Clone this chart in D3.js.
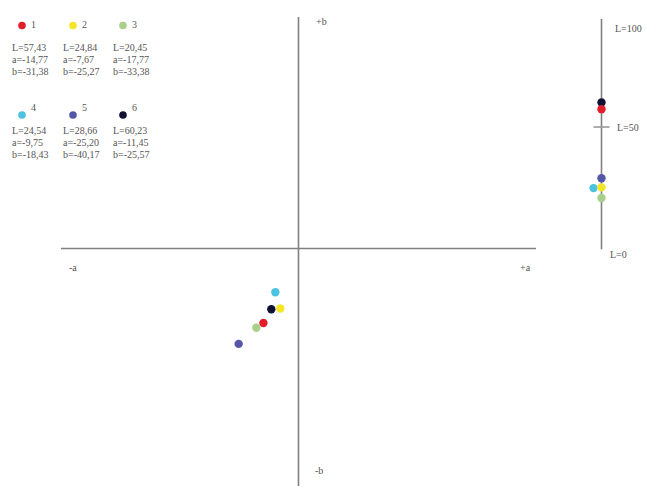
<!DOCTYPE html>
<html lang="en">
<head>
<meta charset="UTF-8">
<title>CIELab</title>
<script src="https://cdn.jsdelivr.net/npm/d3@7"></script>
<style>
  body, html { margin: 0; background: #fff; }
  svg { display: block; }
  text { font-family: "Liberation Serif", "DejaVu Serif", serif; font-size: 10px; fill: #555; }
</style>
</head>
<body>
<svg width="646" height="487"></svg>
<script>
const sampleIds = ["1", "2", "3", "4", "5", "6"];
const lValues = [57.43, 24.84, 20.45, 24.54, 28.66, 60.23];
const aValues = [-14.77, -7.67, -17.77, -9.75, -25.20, -11.45];
const bValues = [-31.38, -25.27, -33.38, -18.43, -40.17, -25.57];
const sampleColors = ["#e31e2b", "#f4e526", "#a9d08b", "#4cc4e1", "#5457a8", "#0f1233"];
const lTicks = [0, 50, 100];

(function(){
  const svg = d3.select('svg');
  const fmt = v => v.toFixed(2).replace('.', ',');
  const samples = sampleIds.map((id, i) => ({id, L: lValues[i], a: aValues[i], b: bValues[i], color: sampleColors[i], i}));

  // a*b* plane
  const x = d3.scaleLinear().domain([-100, 100]).range([61, 536]);
  const y = d3.scaleLinear().domain([-100, 100]).range([486, 11]);
  const axisG = svg.append('g').attr('stroke', '#808080').attr('stroke-width', 1.6);
  axisG.append('line').attr('x1', x(-100)).attr('x2', x(100)).attr('y1', y(0)).attr('y2', y(0));
  axisG.append('line').attr('x1', x(0)).attr('x2', x(0)).attr('y1', y(97.5)).attr('y2', y(-100));
  svg.append('text').attr('x', 69).attr('y', 271).text('-a');
  svg.append('text').attr('x', 520).attr('y', 271).text('+a');
  svg.append('text').attr('x', 316).attr('y', 25).text('+b');
  svg.append('text').attr('x', 315).attr('y', 474).text('-b');

  // L axis
  const lx = 601.5;
  const ly = d3.scaleLinear().domain([0, 100]).range([247, 7]);
  axisG.append('line').attr('x1', lx).attr('x2', lx).attr('y1', ly(95)).attr('y2', ly(-1));
  axisG.append('line').attr('x1', lx - 8).attr('x2', lx + 8).attr('y1', ly(50)).attr('y2', ly(50)).attr('stroke', '#999');
  svg.append('g').selectAll('text').data(lTicks).join('text')
    .attr('x', d => d === 0 ? 610 : d === 50 ? 617 : 615)
    .attr('y', d => d === 0 ? 258 : d === 50 ? 131 : 32)
    .text(d => 'L=' + d);

  // dodge overlapping L markers
  samples.forEach(s => {
    s.dx = samples.some(p => p.i < s.i && Math.abs(p.L - s.L) < 2) ? -8 : 0;
  });
  const drawOrder = samples.slice().reverse();
  svg.append('g').selectAll('circle').data(drawOrder).join('circle')
    .attr('cx', d => lx + d.dx).attr('cy', d => ly(d.L)).attr('r', 4.2).attr('fill', d => d.color);
  svg.append('g').selectAll('circle').data(drawOrder).join('circle')
    .attr('cx', d => x(d.a)).attr('cy', d => y(d.b)).attr('r', 4.2).attr('fill', d => d.color);

  // legend
  const colX = [12, 63, 113];
  const rowY = [25.5, 115];
  const leg = svg.append('g').selectAll('g').data(samples).join('g')
    .attr('transform', d => `translate(${colX[d.i % 3]},${rowY[Math.floor(d.i / 3)]})`);
  leg.append('circle').attr('cx', 10).attr('cy', 0).attr('r', 3.8).attr('fill', d => d.color);
  leg.append('text').attr('x', 19).attr('y', d => d.i < 3 ? 2 : -4).text(d => d.id);
  leg.append('text').attr('x', 0).attr('y', d => d.i < 3 ? 25 : 19).text(d => 'L=' + fmt(d.L));
  leg.append('text').attr('x', 0).attr('y', d => d.i < 3 ? 37 : 31).text(d => 'a=' + fmt(d.a));
  leg.append('text').attr('x', 0).attr('y', d => d.i < 3 ? 49 : 43).text(d => 'b=' + fmt(d.b));
})();
</script>
</body>
</html>
